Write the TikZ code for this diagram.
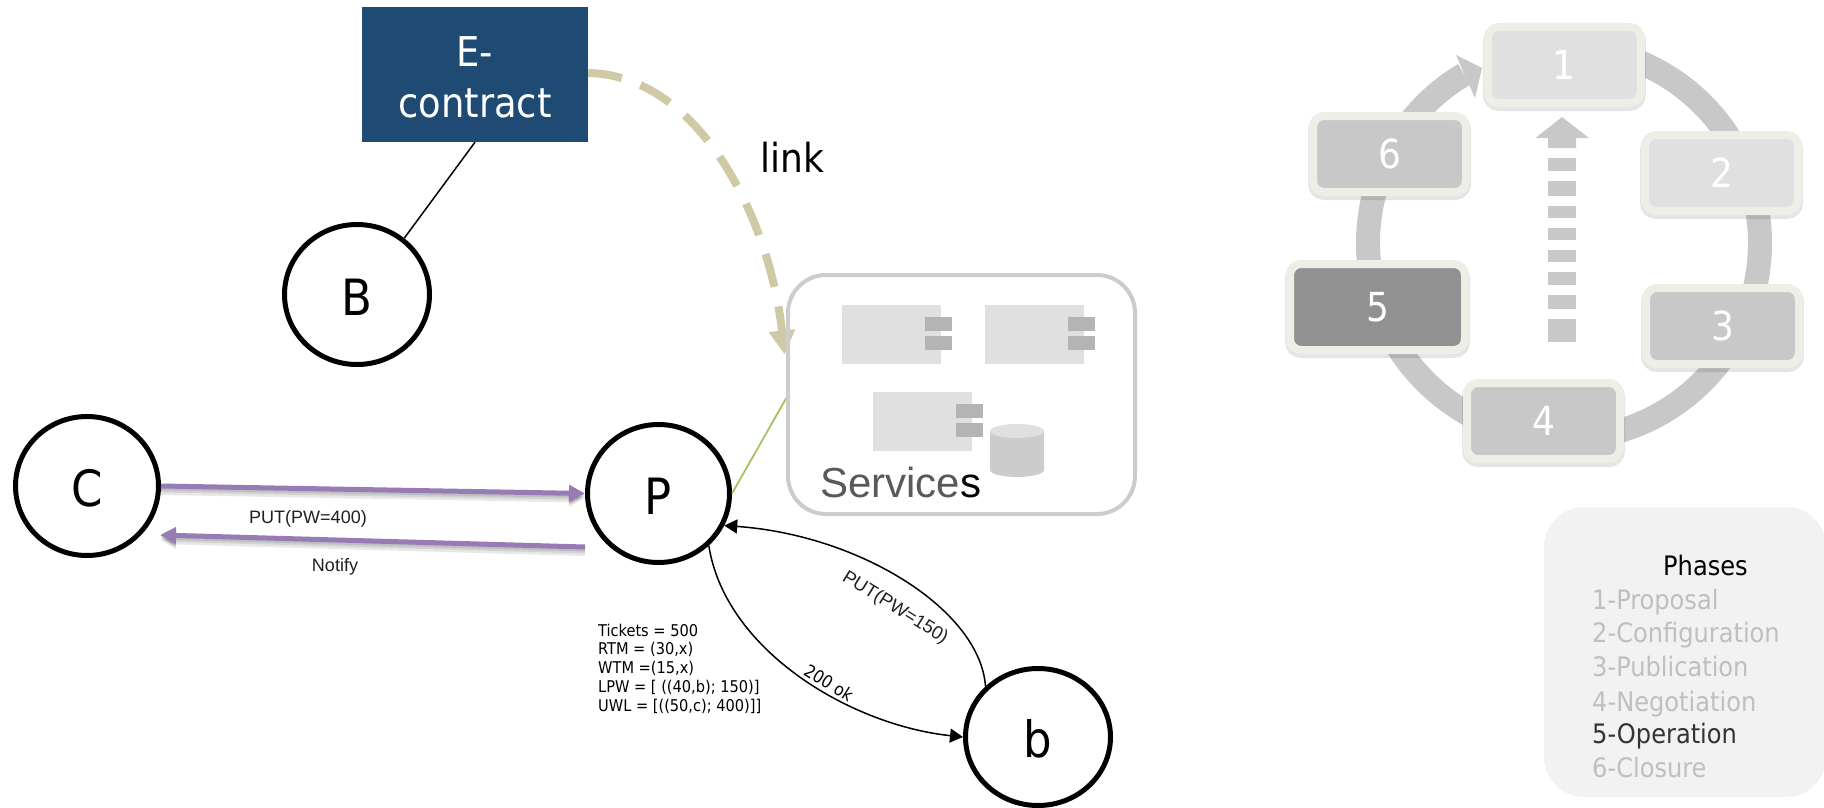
\documentclass[tikz,border=0pt]{standalone}
\usepackage{fontspec}
\setmainfont{DejaVu Sans Condensed}
\newfontfamily\arialfont{Liberation Sans}
\usetikzlibrary{shapes.geometric,arrows.meta}
\pgfdeclarelayer{front}
\pgfsetlayers{main,front}
\definecolor{navyfill}{HTML}{1F4A73}
\definecolor{tanline}{HTML}{CFC9A6}
\definecolor{purpleline}{HTML}{977BB5}
\definecolor{greenline}{HTML}{A4C260}
\definecolor{ringgray}{HTML}{C8C8C8}
\definecolor{boxedge}{HTML}{EEEEE6}
\definecolor{paleblock}{HTML}{E0E0E0}
\definecolor{tabgray}{HTML}{B4B4B4}
\definecolor{fadedtext}{HTML}{BFBFBF}
\newcommand{\fs}[1]{\fontsize{#1}{#1}\selectfont}
\tikzset{
  x=1pt,y=-1pt,
  party/.style={ellipse,draw=black,line width=5pt,fill=white,inner sep=0pt,font=\fs{50},text height=41pt,text depth=0pt},
  phasebox/.style={rectangle,rounded corners=11pt,draw=boxedge,line width=8pt,minimum width=153pt,minimum height=76pt,
    inner sep=0pt,text=white,font=\fs{40},
    preaction={draw=black,opacity=.10,line width=10pt,transform canvas={yshift=-3pt}}},
  lightphase/.style={phasebox,fill=paleblock},
  midphase/.style={phasebox,fill=ringgray},
  purplearrow/.style={draw=purpleline,line width=5pt,-{Triangle[length=16pt,width=16pt]}},
  purpleshadow/.style={draw=black,opacity=.09,line width=#1,-{Triangle[length=16pt,width=16pt]}},
  msgarrow/.style={draw=black,line width=1.5pt,-{Triangle[length=13pt,width=14pt]}},
  arialsmall/.style={font=\arialfont\fs{18},inner sep=0pt,text=black!88},
  smalltext/.style={font=\fs{17.5},inner sep=0pt},
  phasetext/.style={font=\fs{26.8},inner sep=0pt,anchor=base west,text=fadedtext},
  block/.style={fill=paleblock,draw=none},
  tab/.style={fill=tabgray,draw=none}
}
\begin{document}
\begin{tikzpicture}
\useasboundingbox (0,0) rectangle (1824,808);
\fill[white] (0,0) rectangle (1824,808);

% ---- right-hand cycle
\coordinate (ringc) at (1564,243);
\draw[ringgray,line width=24pt] (1564,47) arc[start angle=-90,end angle=239.4,radius=196];
\fill[ringgray] (1456,55) -- (1482,68) -- (1475,98) -- cycle;
\node[lightphase] (p1) at (1564.25,65) {1};
\node[lightphase] (p2) at (1721.5,173) {2};
\node[midphase]   (p3) at (1722.5,326) {3};
\node[midphase]   (p4) at (1543.5,421) {4};
\node[phasebox,fill=black!43,minimum width=175pt,minimum height=86pt] (p5) at (1377.5,307) {5};
\node[midphase]   (p6) at (1389.5,154) {6};

% central dashed up arrow
\fill[ringgray] (1562,117) -- (1589,138) -- (1576,138) -- (1576,148) -- (1548,148) -- (1548,138) -- (1535.5,138) -- cycle;
\foreach \a/\b in {158/171,181/196,206/218,228/240,250/262,272/285,295/309,319/342}
  \fill[ringgray] (1548,\a) rectangle (1576,\b);

% ---- phases legend
\fill[black!5] (1544,507) [rounded corners=40pt] -- (1544,797) -- (1826,797) -- (1826,507) -- cycle;
\node[font=\fs{26.8},inner sep=0pt,anchor=base west,text=black] (phasehead) at (1663,575) {Phases};
\node[phasetext] (ph1) at (1592,609) {1-Proposal};
\node[phasetext] (ph2) at (1592,642) {2-Configuration};
\node[phasetext] (ph3) at (1592,676) {3-Publication};
\node[phasetext] (ph4) at (1592,711) {4-Negotiation};
\node[phasetext,text=black!80] (ph5) at (1592,743) {5-Operation};
\node[phasetext] (ph6) at (1592,777) {6-Closure};

% ---- services box (border lies over the link arrow)
\begin{pgfonlayer}{front}
\node[rectangle,rounded corners=38pt,draw=black!20,line width=4pt,minimum width=347pt,minimum height=239pt,inner sep=0pt] (S) at (961.5,394.5) {};
\end{pgfonlayer}
\fill[block] (842,305) rectangle (941,364);
\fill[tab] (925,317) rectangle (952,331);
\fill[tab] (925,336) rectangle (952,350);
\fill[block] (985,305) rectangle (1084,364);
\fill[tab] (1068,317) rectangle (1095,331);
\fill[tab] (1068,336) rectangle (1095,350);
\fill[block] (873,392) rectangle (972,451);
\fill[tab] (956,404) rectangle (983,418);
\fill[tab] (956,423) rectangle (983,437);
\fill[black!20] (990,431) -- (990,470) arc[start angle=180,end angle=0,x radius=27,y radius=7] -- (1044,431) -- cycle;
\fill[paleblock] (1017,431) ellipse[x radius=27,y radius=7];
\node[inner sep=0pt,anchor=base west,font=\arialfont\fs{42},text=black!65] (servlabel) at (820,497) {Service{\color{black}s}};

% ---- contract and parties
\node[rectangle,fill=navyfill,minimum width=226pt,minimum height=135pt,inner sep=0pt] (E) at (475,74.5) {};
\node[text=white,inner sep=0pt,align=center,font=\fontsize{41}{51}\selectfont,yshift=-3pt] (Etext) at (E.center) {E-\\contract};
\node[party,minimum width=145pt,minimum height=140pt] (B) at (357,294.5) {B};
\node[party,minimum width=143pt,minimum height=139pt] (C) at (87,486) {C};
\node[party,minimum width=142pt,minimum height=138pt] (P) at (658.5,493.5) {P};
\node[party,minimum width=145pt,minimum height=137pt] (b) at (1038,737) {b};

\draw[black,line width=1.5pt] (E.south) -- (B.50);
\draw[tanline,line width=8pt,dash pattern=on 34pt off 20pt,-{Triangle[length=24pt,width=25pt]}]
  (E.east |- 0,73) .. controls (700,75) and (770,220) .. ([shift={(-1.5,-40)}]S.west);
\node[inner sep=0pt,anchor=base west,font=\fs{40}] (linklabel) at (760,172) {link};

\draw[greenline,line width=1.8pt] (P.east) -- ([yshift=-4pt]S.west);

% purple exchange
\coordinate (pout) at ([yshift=-53.5pt]P.west);
\coordinate (cin) at ([shift={(-1,49)}]C.east);
\foreach \w/\s in {5pt/-2pt,7pt/-3pt,8pt/-5pt}{
  \draw[purpleshadow=\w,transform canvas={yshift=\s}] (C.east) -- (P.west);
  \draw[purpleshadow=\w,transform canvas={yshift=\s}] (pout) -- (cin);
}
\draw[purplearrow] (C.east) -- (P.west);
\draw[purplearrow] (pout) -- (cin);
\node[arialsmall] (putc) at (308,519) {PUT(PW=400)};
\node[arialsmall] (notify) at (335,567) {Notify};

% black exchange
\draw[msgarrow] (P.-46) .. controls (725,650) and (850,725) .. (b.west);
\draw[msgarrow] (b.136) .. controls (980,610) and (860,535) .. (P.-26);
\node[arialsmall,font=\arialfont\fs{18.5},rotate=-32] (putb) at (895,608) {PUT(PW=150)};
\node[smalltext,rotate=-32] (okb) at (829,683) {200 ok};
\node[smalltext,anchor=north west,align=left,font=\fontsize{16.2}{18.75}\selectfont] (state) at (598,623.5) {Tickets = 500\\RTM = (30,x)\\WTM =(15,x)\\LPW = [ ((40,b); 150)]\\UWL = [((50,c); 400)]]};
\end{tikzpicture}
\end{document}
